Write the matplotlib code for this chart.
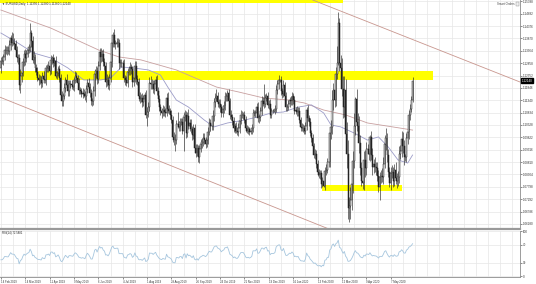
import numpy as np
import matplotlib
matplotlib.use("Agg")
import matplotlib.pyplot as plt
from matplotlib.patches import Rectangle

plt.rcParams['font.family'] = ['Liberation Sans', 'DejaVu Sans']

# ---------------- data (EURUSD daily, prices in pips above 1.0000) ----------------
warmup_close = [1410, 1430, 1430, 1480, 1450, 1455, 1435, 1405, 1365, 1340, 1325, 1275, 1325, 1265]

close = [
    1295, 1295, 1310, 1340, 1340, 1335, 1335, 1360, 1390, 1370,
    1370, 1365, 1340, 1310, 1305, 1195, 1235, 1245, 1290, 1325,
    1305, 1325, 1340, 1350, 1410, 1375, 1300, 1310, 1265, 1250,
    1225, 1215, 1215, 1205, 1235, 1220, 1215, 1265, 1265, 1275,
    1255, 1300, 1305, 1285, 1295, 1235, 1245, 1260, 1225, 1155,
    1130, 1150, 1185, 1215, 1195, 1170, 1200, 1200, 1195, 1190,
    1215, 1235, 1225, 1205, 1175, 1170, 1160, 1165, 1160, 1150,
    1180, 1205, 1190, 1165, 1130, 1130, 1170, 1240, 1255, 1220,
    1275, 1330, 1310, 1325, 1290, 1275, 1210, 1215, 1195, 1225,
    1290, 1370, 1400, 1365, 1365, 1370, 1370, 1285, 1285, 1285,
    1285, 1225, 1215, 1205, 1250, 1255, 1270, 1260, 1210, 1225,
    1275, 1220, 1210, 1150, 1140, 1145, 1125, 1140, 1155, 1075,
    1085, 1105, 1205, 1200, 1200, 1180, 1200, 1215, 1170, 1140,
    1105, 1090, 1080, 1095, 1085, 1080, 1145, 1100, 1090, 1075,
    1055, 985, 970, 970, 1035, 1035, 1025, 1045, 1045, 1010,
    1065, 1075, 1000, 1070, 1030, 1040, 1015, 990, 1020, 940,
    920, 940, 900, 935, 955, 965, 980, 970, 955, 970,
    1005, 1040, 1030, 1030, 1070, 1125, 1145, 1150, 1125, 1120,
    1105, 1080, 1100, 1110, 1150, 1150, 1165, 1130, 1075, 1065,
    1050, 1020, 1030, 1010, 1005, 1020, 1050, 1075, 1075, 1075,
    1055, 1020, 1010, 1015, 1005, 1010, 1020, 1080, 1080, 1080,
    1105, 1060, 1065, 1090, 1130, 1130, 1120, 1145, 1150, 1115,
    1120, 1075, 1090, 1090, 1090, 1100, 1175, 1200, 1215, 1215,
    1170, 1160, 1195, 1150, 1105, 1105, 1120, 1135, 1130, 1150,
    1135, 1090, 1095, 1085, 1090, 1055, 1025, 1020, 1020, 1010,
    1030, 1095, 1060, 1045, 1000, 980, 945, 910, 915, 875,
    840, 830, 835, 790, 805, 785, 845, 850, 880, 880,
    1000, 1025, 1135, 1175, 1135, 1240, 1285, 1450, 1285, 1265,
    1180, 1105, 1175, 995, 915, 695, 700, 725, 790, 885,
    1030, 1140, 1045, 1030, 960, 855, 805, 795, 890, 855,
    935, 935, 915, 985, 910, 860, 875, 860, 855, 825,
    780, 820, 825, 820, 875, 955, 980, 910, 840, 795,
    835, 840, 805, 850, 815, 805, 820, 915, 925, 975,
    945, 900, 900, 980, 1005, 1075, 1100, 1135, 1214,
]

upper_wick = [
    15, 20, 12, 18, 14, 16, 22, 20, 12, 25,
    40, 18, 15, 14, 12, 20, 25, 18, 16, 14,
    18, 16, 12, 15, 38, 10, 20, 25, 14, 18,
    20, 15, 22, 18, 14, 20, 25, 12, 18, 20,
    15, 20, 12, 18, 16, 22, 10, 14, 20, 18,
    15, 12, 18, 14, 25, 20, 15, 18, 16, 22,
    14, 20, 16, 12, 18, 15, 14, 20, 16, 12,
    18, 15, 20, 14, 16, 12, 22, 20, 18, 15,
    20, 18, 16, 14, 20, 18, 15, 25, 20, 18,
    22, 18, 12, 25, 15, 18, 20, 14, 18, 16,
    12, 18, 14, 20, 16, 18, 22, 14, 16, 20,
    18, 20, 16, 14, 18, 15, 20, 16, 14, 22,
    20, 22, 25, 28, 20, 18, 16, 20, 22, 18,
    16, 14, 12, 18, 14, 16, 20, 22, 16, 14,
    18, 15, 20, 25, 20, 50, 14, 18, 16, 16,
    22, 20, 14, 16, 28, 18, 16, 14, 18, 15,
    14, 16, 12, 18, 20, 16, 22, 18, 14, 16,
    18, 20, 16, 14, 25, 20, 18, 29, 16, 14,
    18, 14, 16, 20, 18, 15, 10, 16, 14, 18,
    14, 16, 12, 14, 16, 20, 14, 18, 16, 12,
    14, 16, 12, 14, 10, 12, 15, 18, 14, 16,
    18, 20, 14, 16, 20, 18, 70, 16, 14, 18,
    14, 18, 12, 10, 5, 14, 20, 18, 24, 5,
    18, 16, 20, 14, 18, 12, 16, 14, 16, 18,
    14, 16, 12, 14, 16, 18, 12, 14, 16, 12,
    16, 12, 18, 14, 16, 12, 14, 16, 18, 14,
    16, 14, 12, 14, 16, 20, 18, 22, 16, 18,
    25, 30, 40, 30, 45, 30, 70, 45, 20, 35,
    40, 55, 60, 45, 50, 55, 40, 55, 50, 40,
    50, 7, 40, 35, 40, 30, 25, 30, 35, 40,
    30, 20, 25, 5, 25, 30, 20, 25, 20, 25,
    25, 20, 25, 30, 25, 35, 39, 20, 25, 20,
    25, 30, 20, 25, 30, 20, 25, 30, 25, 33,
    30, 25, 15, 20, 25, 20, 20, 18, 14,
]

lower_wick = [
    20, 12, 18, 10, 15, 14, 12, 16, 20, 14,
    12, 20, 10, 18, 22, 19, 30, 25, 12, 15,
    25, 14, 16, 12, 20, 22, 15, 18, 16, 14,
    12, 18, 14, 20, 16, 15, 10, 18, 14, 16,
    18, 12, 16, 14, 12, 10, 14, 12, 15, 12,
    20, 20, 12, 16, 14, 18, 20, 16, 14, 15,
    18, 12, 15, 14, 16, 12, 14, 16, 12, 15,
    22, 15, 12, 18, 16, 20, 14, 18, 16, 20,
    15, 18, 20, 16, 14, 18, 20, 16, 14, 20,
    16, 20, 18, 14, 20, 15, 18, 22, 16, 14,
    10, 16, 20, 14, 18, 14, 16, 18, 20, 16,
    16, 18, 14, 20, 16, 14, 18, 15, 20, 14,
    48, 20, 16, 18, 22, 16, 20, 18, 16, 14,
    14, 16, 18, 12, 14, 16, 12, 18, 14, 16,
    16, 20, 18, 44, 16, 15, 18, 16, 14, 14,
    83, 16, 20, 18, 14, 20, 16, 18, 14, 20,
    18, 14, 20, 21, 14, 16, 18, 14, 16, 12,
    16, 14, 20, 18, 16, 22, 18, 14, 20, 16,
    20, 16, 14, 18, 16, 20, 18, 14, 16, 12,
    16, 14, 18, 12, 14, 16, 18, 12, 14, 16,
    16, 14, 12, 14, 12, 10, 14, 16, 12, 14,
    14, 16, 18, 14, 16, 20, 18, 14, 16, 12,
    16, 14, 12, 10, 5, 12, 16, 14, 18, 5,
    14, 16, 12, 18, 14, 16, 12, 14, 16, 14,
    16, 14, 12, 14, 16, 14, 18, 12, 14, 16,
    14, 16, 12, 18, 14, 16, 12, 14, 16, 18,
    14, 16, 18, 14, 12, 7, 20, 16, 14, 18,
    20, 25, 30, 40, 30, 25, 20, 5, 30, 35,
    30, 45, 40, 50, 60, 45, 59, 50, 40, 35,
    30, 40, 35, 30, 40, 25, 20, 25, 30, 35,
    25, 20, 25, 30, 20, 30, 25, 20, 25, 20,
    20, 53, 25, 20, 30, 20, 25, 30, 20, 16,
    29, 20, 25, 20, 25, 30, 20, 25, 20, 25,
    25, 30, 15, 20, 25, 30, 20, 15, 9,
]

# moving averages (bar index, price)
ma200_bar = [0, 41, 80, 97, 115, 144, 177, 195, 216, 236, 249, 265, 283, 301, 328, 338]
ma200_val = [1.1503, 1.1429, 1.1340, 1.1311, 1.1299, 1.1258, 1.1188, 1.1168, 1.1143,
             1.1135, 1.1123, 1.1094, 1.1074, 1.1041, 1.1020, 1.1012]
ma50_bar = [0, 14, 27, 41, 55, 68, 82, 90, 99, 109, 121, 131, 137, 144, 154, 167, 175,
            186, 200, 211, 222, 232, 244, 255, 265, 271, 279, 290, 301, 310, 318, 326, 334, 338]
ma50_val = [1.1409, 1.1368, 1.1327, 1.1307, 1.1266, 1.1217, 1.1217, 1.1225, 1.1270, 1.1266,
            1.1258, 1.1237, 1.1188, 1.1135, 1.1106, 1.1053, 1.1025, 1.1041, 1.1053, 1.1066,
            1.1082, 1.1086, 1.1106, 1.1115, 1.1082, 1.1033, 1.1025, 1.1000, 1.0971, 1.0984,
            1.0943, 1.0890, 1.0877, 1.0910]

# trend lines (bar, price) anchors
upper_line_bar = [256, 426]
upper_line_val = [1.1544, 1.1209]
lower_line_bar = [-1, 272]
lower_line_val = [1.1147, 1.0602]

# yellow zones: (bar start, bar end, price low, price high)
zone_top = (-2, 281, 1.1533, 1.1570)
zone_mid = (-2, 355, 1.1217, 1.1254)
zone_low = (264, 329.5, 1.0761, 1.0789)

price_ticks = [1.06280, 1.06786, 1.07292, 1.07798, 1.08304, 1.08810, 1.09316, 1.09822,
               1.10328, 1.10834, 1.11340, 1.11846, 1.12352, 1.12858, 1.13364, 1.13870,
               1.14376, 1.14882, 1.15388]
date_tick_bar = list(range(0, 321, 20))
date_tick_label = ["14 Feb 2019", "14 Mar 2019", "11 Apr 2019", "9 May 2019", "6 Jun 2019",
                   "4 Jul 2019", "1 Aug 2019", "29 Aug 2019", "26 Sep 2019", "24 Oct 2019",
                   "21 Nov 2019", "19 Dec 2019", "16 Jan 2020", "13 Feb 2020", "12 Mar 2020",
                   "9 Apr 2020", "7 May 2020"]
rsi_ticks = [0, 30, 70, 100]

# ---------------- derived ----------------
c = 1 + np.array(close) / 1e4
prev = 1 + np.array([warmup_close[-1]] + close[:-1]) / 1e4
o = prev
hi = np.maximum(o, c) + np.array(upper_wick) / 1e4
lo = np.minimum(o, c) - np.array(lower_wick) / 1e4
n = len(c)
x = np.arange(n)

allc = 1 + np.array(warmup_close + close) / 1e4
d = np.diff(allc)
g = np.clip(d, 0, None)
l = np.clip(-d, 0, None)
ag, al = g[:14].mean(), l[:14].mean()
rsi = [100 - 100 / (1 + ag / al)]
for i in range(14, len(d)):
    ag = (ag * 13 + g[i]) / 14
    al = (al * 13 + l[i]) / 14
    rsi.append(100 - 100 / (1 + ag / al) if al > 0 else 100)
rsi = np.array(rsi)

# ---------------- figure ----------------
W, H = 536, 284
fig = plt.figure(figsize=(W / 100, H / 100), dpi=100)
fig.patch.set_facecolor('white')
ax = fig.add_axes([0, 1 - 229 / H, 520 / W, 229 / H])
axr = fig.add_axes([0, 7 / H, 520 / W, 46.5 / H])

xl = (-0.74, 426.2)
ax.set_xlim(*xl)
ax.set_ylim(1.06074, 1.15440)
axr.set_xlim(*xl)
axr.set_ylim(-2.2, 102.2)

grid_c = '#e6e6e6'
for a in (ax, axr):
    a.set_xticks(np.arange(0, 430, 10), minor=True)
    a.grid(True, which='both', axis='x', color=grid_c, lw=0.5, zorder=0)
    a.set_axisbelow(True)
    for s in ('left', 'top'):
        a.spines[s].set_visible(False)
    a.spines['right'].set_color('#8c8c8c')
    a.spines['right'].set_linewidth(0.6)
    a.yaxis.tick_right()

ax.set_xticks([])
ax.set_xticks(np.arange(0, 430, 10), minor=True)
ax.tick_params(axis='x', which='both', length=0)
ax.set_yticks(price_ticks)
ax.set_yticklabels([f"{v:.5f}" for v in price_ticks])
ax.grid(True, axis='y', color=grid_c, lw=0.5, zorder=0)
ax.tick_params(axis='y', labelsize=2.2, length=1.2, width=0.4, pad=1, colors='#333333')
ax.spines['bottom'].set_color('#9a9a9a')
ax.spines['bottom'].set_linewidth(1.6)

# zones
for z in (zone_top, zone_mid, zone_low):
    ax.add_patch(Rectangle((z[0], z[2]), z[1] - z[0], z[3] - z[2],
                           facecolor='#ffff00', edgecolor='none', zorder=1))

# trend lines
ax.plot(upper_line_bar, upper_line_val, color='#c8968e', lw=0.6, zorder=2)
ax.plot(lower_line_bar, lower_line_val, color='#c8968e', lw=0.6, zorder=2)

# moving averages
ax.plot(ma200_bar, ma200_val, color='#c8a0a0', lw=0.6, zorder=2)
ax.plot(ma50_bar, ma50_val, color='#9c9cc8', lw=0.6, zorder=2)

# candles
ax.vlines(x, lo, hi, color='#2a2a2a', lw=0.45, zorder=3)
bull = c >= o
bottom = np.minimum(o, c)
height = np.maximum(np.abs(c - o), 0.00004)
ax.bar(x[bull], height[bull], bottom=bottom[bull], width=0.8, color='white',
       edgecolor='#222222', linewidth=0.35, zorder=4)
ax.bar(x[~bull], height[~bull], bottom=bottom[~bull], width=0.8, color='#222222',
       edgecolor='#222222', linewidth=0.35, zorder=4)

# current price marker
ax.text(1.003, c[-1], f"{c[-1]:.5f}", transform=ax.get_yaxis_transform(), fontsize=2.2,
        color='white', va='center', ha='left',
        bbox=dict(boxstyle='square,pad=0.25', fc='black', ec='black'), clip_on=False)

# header texts
ax.text(0.004, 0.992, f"\u25bc EURUSD,Daily  {o[-1]:.5f} {hi[-1]:.5f} {lo[-1]:.5f} {c[-1]:.5f}",
        transform=ax.transAxes, fontsize=2.1, va='top', ha='left', color='#222222')
ax.text(0.955, 0.992, "Smart Orders", transform=ax.transAxes, fontsize=2.1,
        va='top', ha='left', color='#444444')
ax.add_patch(Rectangle((0.9925, 0.972), 0.0055, 0.018, transform=ax.transAxes,
                       facecolor='#f0f0f0', edgecolor='#888888', lw=0.3))

# RSI panel
axr.plot(x, rsi, color='#a6c6de', lw=0.6, zorder=3)
axr.set_yticks(rsi_ticks)
axr.set_yticklabels([str(t) for t in rsi_ticks])
axr.grid(True, axis='y', color=grid_c, lw=0.5, zorder=0)
axr.tick_params(axis='y', labelsize=2.2, length=1.2, width=0.4, pad=1, colors='#333333')
axr.spines['bottom'].set_color('#8c8c8c')
axr.spines['bottom'].set_linewidth(0.6)
axr.set_xticks(date_tick_bar)
axr.set_xticklabels(date_tick_label)
for t in axr.get_xticklabels():
    t.set_ha('left')
axr.tick_params(axis='x', which='major', labelsize=2.0, length=1.2, width=0.4, pad=0.8,
                colors='#333333')
axr.tick_params(axis='x', which='minor', length=0)
axr.text(0.004, 0.985, f"RSI(14) {rsi[-1]:.4f}", transform=axr.transAxes, fontsize=2.0,
         va='top', ha='left', color='#222222')

fig.savefig("out.png", dpi=100, facecolor='white')
